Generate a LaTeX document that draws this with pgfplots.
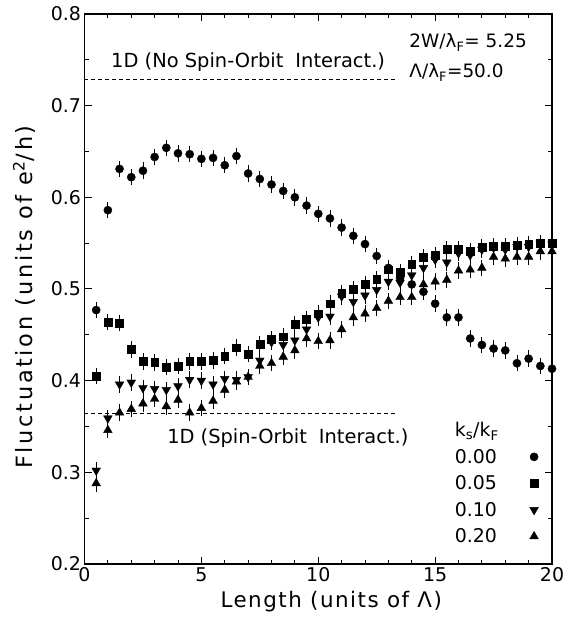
\documentclass[border=0pt]{standalone}
\usepackage{fontspec}
\setmainfont{DejaVu Sans}
\newfontfamily\xlabfont{DejaVu Sans}[LetterSpace=7]
\newfontfamily\ylabfont{DejaVu Sans}[LetterSpace=12]
\usepackage{pgfplots}
\usepackage{pgfplotstable}
\pgfplotsset{compat=1.18}

\pgfplotstableread{
x y
0.5 0.477
1 0.586
1.5 0.631
2 0.622
2.5 0.629
3 0.644
3.5 0.654
4 0.648
4.5 0.647
5 0.642
5.5 0.643
6 0.635
6.5 0.645
7 0.626
7.5 0.620
8 0.614
8.5 0.607
9 0.600
9.5 0.591
10 0.582
10.5 0.577
11 0.567
11.5 0.558
12 0.549
12.5 0.536
13 0.523
13.5 0.512
14 0.505
14.5 0.497
15 0.484
15.5 0.469
16 0.469
16.5 0.446
17 0.439
17.5 0.435
18 0.433
18.5 0.419
19 0.424
19.5 0.416
20 0.413
}\dataA

\pgfplotstableread{
x y
0.5 0.405
1 0.464
1.5 0.463
2 0.434
2.5 0.421
3 0.420
3.5 0.415
4 0.416
4.5 0.421
5 0.421
5.5 0.422
6 0.427
6.5 0.436
7 0.429
7.5 0.440
8 0.445
8.5 0.448
9 0.462
9.5 0.467
10 0.473
10.5 0.484
11 0.495
11.5 0.500
12 0.505
12.5 0.511
13 0.521
13.5 0.518
14 0.527
14.5 0.535
15 0.537
15.5 0.543
16 0.543
16.5 0.541
17 0.546
17.5 0.547
18 0.547
18.5 0.548
19 0.549
19.5 0.550
20 0.550
}\dataB

\pgfplotstableread{
x y
0.5 0.302
1 0.359
1.5 0.396
2 0.398
2.5 0.392
3 0.391
3.5 0.390
4 0.394
4.5 0.401
5 0.400
5.5 0.396
6 0.402
6.5 0.401
7 0.404
7.5 0.422
8 0.442
8.5 0.439
9 0.444
9.5 0.456
10 0.469
10.5 0.470
11 0.492
11.5 0.486
12 0.493
12.5 0.499
13 0.508
13.5 0.507
14 0.515
14.5 0.523
15 0.532
15.5 0.529
16 0.539
16.5 0.537
17 0.543
17.5 0.545
18 0.543
18.5 0.546
19 0.546
19.5 0.549
20 0.549
}\dataC

\pgfplotstableread{
x y
0.5 0.288
1 0.346
1.5 0.365
2 0.369
2.5 0.375
3 0.380
3.5 0.372
4 0.379
4.5 0.365
5 0.370
5.5 0.378
6 0.390
6.5 0.399
7 0.404
7.5 0.416
8 0.419
8.5 0.426
9 0.433
9.5 0.446
10 0.443
10.5 0.444
11 0.456
11.5 0.469
12 0.473
12.5 0.479
13 0.487
13.5 0.491
14 0.491
14.5 0.505
15 0.508
15.5 0.510
16 0.520
16.5 0.521
17 0.523
17.5 0.535
18 0.533
18.5 0.535
19 0.535
19.5 0.541
20 0.541
}\dataD

\begin{document}
\begin{tikzpicture}
\begin{axis}[
  scale only axis,
  width=467.5bp, height=550bp,
  xmin=0, xmax=20, ymin=0.2, ymax=0.8,
  xtick={0,5,10,15,20},
  ytick={0.2,0.3,0.4,0.5,0.6,0.7,0.8},
  minor x tick num=4, minor y tick num=1,
  tick align=inside,
  major tick length=7bp, minor tick length=4bp,
  axis line style={line width=1.4pt},
  every tick/.style={line width=1pt, black},
  /pgf/number format/assume math mode=true,
  yticklabel style={/pgf/number format/fixed, /pgf/number format/fixed zerofill, /pgf/number format/precision=1},
  ticklabel style={font=\fontsize{19}{22}\selectfont},
  xlabel={Length (units of Λ)},
  ylabel={Fluctuation (units of e\textsuperscript{2}/h)},
  xlabel style={font=\xlabfont\fontsize{21.5}{24}\selectfont, yshift=-3bp, xshift=13bp},
  ylabel style={font=\ylabfont\fontsize{22.5}{25}\selectfont, yshift=9bp, xshift=-8bp},
  legend plot pos=right,
  legend style={draw=none, fill=none, at={(axis cs:15.75,0.357)}, anchor=north west,
    font=\fontsize{19}{21}\selectfont, row sep=7pt, inner sep=0pt,
    cells={anchor=west},
    /tikz/every odd column/.append style={column sep=25pt}},
  error bars/y dir=both,
  error bars/y fixed=0.009,
  error bars/error mark=none,
  error bars/error bar style={line width=0.8pt, black},
]
\coordinate (SW) at (rel axis cs:0,0);
\coordinate (NE) at (rel axis cs:1,1);

\addlegendimage{empty legend}
\addlegendentry{k\textsubscript{s}/k\textsubscript{F}}

\addplot[only marks, black, mark=*, mark size=4.1bp, mark options={fill=black}] table {\dataA};
\addlegendentry{0.00}
\addplot[only marks, black, mark=square*, mark size=3.9bp, mark options={fill=black}] table {\dataB};
\addlegendentry{0.05}
\addplot[only marks, black, mark=triangle*, mark size=5bp, mark options={fill=black, rotate=180}] table {\dataC};
\addlegendentry{0.10}
\addplot[only marks, black, mark=triangle*, mark size=5bp, mark options={fill=black}] table {\dataD};
\addlegendentry{0.20}

\addplot[forget plot, black, line width=0.8pt, dash pattern=on 4pt off 3pt, error bars/y dir=none] coordinates {(0,0.729) (13.3,0.729)};
\addplot[forget plot, black, line width=0.8pt, dash pattern=on 4pt off 3pt, error bars/y dir=none] coordinates {(0,0.364) (13.3,0.364)};

\node[font=\fontsize{19.5}{22}\selectfont] at (axis cs:7.0,0.747) {1D (No Spin-Orbit\hspace{0.3em} Interact.)};
\node[font=\fontsize{19.5}{22}\selectfont] at (axis cs:8.7,0.337) {1D (Spin-Orbit\hspace{0.3em} Interact.)};
\node[anchor=west, font=\fontsize{18.5}{21}\selectfont] at (axis cs:13.75,0.769) {2W/λ\textsubscript{F}= 5.25};
\node[anchor=west, font=\fontsize{18.5}{21}\selectfont] at (axis cs:13.75,0.736) {Λ/λ\textsubscript{F}=50.0};
\end{axis}
\pgfresetboundingbox
\path[use as bounding box] ([xshift=-84.5bp,yshift=-56bp]SW) rectangle ([xshift=21bp,yshift=14bp]NE);
\end{tikzpicture}
\end{document}
